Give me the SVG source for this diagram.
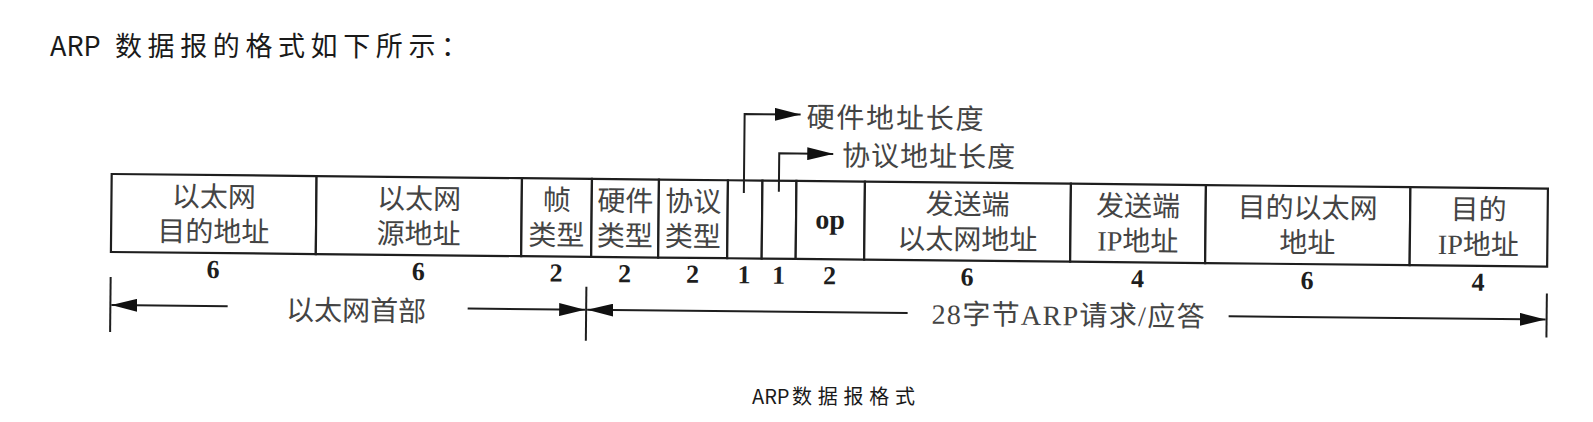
<svg xmlns="http://www.w3.org/2000/svg" width="1593" height="422" viewBox="0 0 1593 422">
<style>
.title{font-family:"Noto Sans CJK SC","Noto Sans",sans-serif;fill:#1a1a1a}
.cell{font-family:"Liberation Serif","Noto Sans CJK SC",serif;font-size:28px;fill:#444;text-anchor:middle;dominant-baseline:central}
.lbl{font-family:"Liberation Serif","Noto Sans CJK SC",serif;font-size:28px;fill:#444;dominant-baseline:central}
.op{font-family:"Liberation Serif",serif;font-weight:bold;font-size:28px;fill:#1e1e1e;text-anchor:middle;dominant-baseline:central}
.num{font-family:"Liberation Serif",serif;font-weight:bold;font-size:26px;fill:#1e1e1e;text-anchor:middle}
.box{fill:#fff;stroke:#1e1e1e;stroke-width:2.2}
.ln{stroke:#1e1e1e;stroke-width:2;fill:none}
.arr{marker-end:url(#ah)}
</style>
<defs>
<marker id="ah" viewBox="0 0 26 13" refX="26" refY="6.5" markerWidth="26" markerHeight="13" markerUnits="userSpaceOnUse" orient="auto"><path d="M0,0 L26,6.5 L0,13 Z" fill="#111"/></marker>
</defs>
<rect width="1593" height="422" fill="#fff"/>
<g id="title">
<text class="title" y="44" font-size="27" dominant-baseline="central"><tspan x="50">ARP</tspan><tspan x="115" textLength="353" lengthAdjust="spacing">数据报的格式如下所示：</tspan></text>
</g>
<g id="diagram" transform="rotate(0.58 111.7 174)">
<g id="c1"><rect class="box" x="111.7" y="174" width="204.9" height="78"/><text class="cell" x="214" y="196">以太网</text><text class="cell" x="214" y="231">目的地址</text><text class="num" x="214" y="277">6</text></g>
<g id="c2"><rect class="box" x="316.6" y="174" width="205.4" height="78"/><text class="cell" x="419.3" y="196">以太网</text><text class="cell" x="419.3" y="231">源地址</text><text class="num" x="419.3" y="277">6</text></g>
<g id="c3"><rect class="box" x="522" y="174" width="70" height="78"/><text class="cell" x="557" y="196">帧</text><text class="cell" x="557" y="231">类型</text><text class="num" x="557" y="277">2</text></g>
<g id="c4"><rect class="box" x="592" y="174" width="67" height="78"/><text class="cell" x="625.5" y="196">硬件</text><text class="cell" x="625.5" y="231">类型</text><text class="num" x="625.5" y="277">2</text></g>
<g id="c5"><rect class="box" x="659" y="174" width="69" height="78"/><text class="cell" x="693.5" y="196">协议</text><text class="cell" x="693.5" y="231">类型</text><text class="num" x="693.5" y="277">2</text></g>
<g id="c6"><rect class="box" x="728" y="174" width="34.5" height="78"/><text class="num" x="745" y="277">1</text></g>
<g id="c7"><rect class="box" x="762.5" y="174" width="34" height="78"/><text class="num" x="779.5" y="277">1</text></g>
<g id="c8"><rect class="box" x="796.5" y="174" width="68.5" height="78"/><text class="op" x="830.5" y="212">op</text><text class="num" x="830.5" y="277">2</text></g>
<g id="c9"><rect class="box" x="865" y="174" width="206" height="78"/><text class="cell" x="968" y="196">发送端</text><text class="cell" x="968" y="231">以太网地址</text><text class="num" x="968" y="277">6</text></g>
<g id="c10"><rect class="box" x="1071" y="174" width="135" height="78"/><text class="cell" x="1138.5" y="196">发送端</text><text class="cell" x="1138.5" y="231">IP地址</text><text class="num" x="1138.5" y="277">4</text></g>
<g id="c11"><rect class="box" x="1206" y="174" width="204.5" height="78"/><text class="cell" x="1308" y="196">目的以太网</text><text class="cell" x="1308" y="231">地址</text><text class="num" x="1308" y="277">6</text></g>
<g id="c12"><rect class="box" x="1410.5" y="174" width="137.5" height="78"/><text class="cell" x="1479" y="196">目的</text><text class="cell" x="1479" y="231">IP地址</text><text class="num" x="1479" y="277">4</text></g>
<g id="hwlen"><text class="lbl" x="806" y="110.6" textLength="177" lengthAdjust="spacing">硬件地址长度</text></g>
<g id="prlen"><text class="lbl" x="842" y="148.5" textLength="173" lengthAdjust="spacing">协议地址长度</text></g>
<g id="ethhdr"><text class="cell" x="357.5" y="308.5">以太网首部</text></g>
<g id="arpbody"><text class="cell" x="1069.5" y="306" font-size="29" textLength="273" lengthAdjust="spacing">28字节ARP请求/应答</text></g>
<g id="connectors">
<path class="ln arr" d="M744,186.6 V107.6 H800"/>
<path class="ln arr" d="M779,185 V146.6 H833"/>
<line class="ln" x1="111.7" y1="277" x2="111.7" y2="332"/>
<line class="ln" x1="587.5" y1="282" x2="587.5" y2="336"/>
<line class="ln" x1="1548" y1="279" x2="1548" y2="323"/>
<line class="ln arr" x1="229" y1="305" x2="112.7" y2="305"/>
<line class="ln arr" x1="469" y1="305" x2="586.5" y2="305"/>
<line class="ln arr" x1="909" y1="305" x2="588.5" y2="305"/>
<line class="ln arr" x1="1230" y1="305" x2="1547" y2="305"/>
</g>
</g>
<g id="caption">
<text class="title" y="395" font-size="20" dominant-baseline="central"><tspan x="752">ARP</tspan><tspan x="792" textLength="123" lengthAdjust="spacing">数据报格式</tspan></text>
</g>
</svg>
